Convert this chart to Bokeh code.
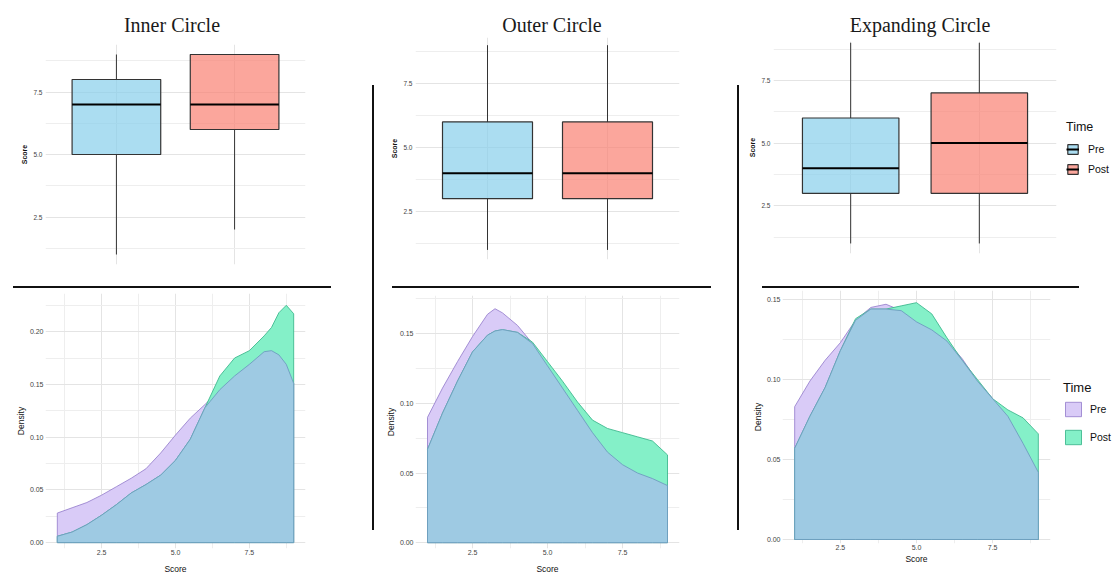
import numpy as np
from bokeh.plotting import figure
from bokeh.layouts import row, column
from bokeh.models import (FixedTicker, NumeralTickFormatter, Legend, LegendItem,
                          Div, Range1d, ColumnDataSource)
from bokeh.embed import file_html
from bokeh.resources import INLINE

# ---------------- data ----------------
panel_titles = ["Inner Circle", "Outer Circle", "Expanding Circle"]
times = ["Pre", "Post"]

# box statistics: lower whisker, Q1, median, Q3, upper whisker
inner_pre_box = [1, 5, 7, 8, 9]
inner_post_box = [2, 6, 7, 9, 9]
outer_pre_box = [1, 3, 4, 6, 9]
outer_post_box = [1, 3, 4, 6, 9]
expanding_pre_box = [1, 3, 4, 6, 9]
expanding_post_box = [1, 3, 5, 7, 9]

box_y_ticks = [2.5, 5.0, 7.5]
box_y_minor = [1.25, 3.75, 6.25, 8.75]
score_ticks = [2.5, 5.0, 7.5]
score_minor = [1.25, 3.75, 6.25, 8.75]
density_ticks = [0.0, 0.05, 0.10, 0.15, 0.20]
density_minor = [0.025, 0.075, 0.125, 0.175, 0.225]

# density curves (Score grid, Pre density, Post density)
inner_x = [1, 1.5, 2, 2.5, 3, 3.5, 4, 4.5, 5, 5.5, 6, 6.5, 7, 7.5, 8, 8.25, 8.5, 8.75, 9]
inner_pre = [0.028, 0.033, 0.038, 0.045, 0.053, 0.061, 0.070, 0.085, 0.102, 0.118, 0.131,
             0.145, 0.158, 0.169, 0.181, 0.182, 0.178, 0.169, 0.151]
inner_post = [0.006, 0.010, 0.017, 0.026, 0.036, 0.047, 0.055, 0.064, 0.078, 0.098, 0.128,
              0.158, 0.175, 0.182, 0.196, 0.204, 0.218, 0.225, 0.217]

outer_x = [1, 1.5, 2, 2.5, 3, 3.25, 3.5, 4, 4.5, 5, 5.5, 6, 6.5, 7, 7.5, 8, 8.5, 9]
outer_pre = [0.090, 0.111, 0.130, 0.148, 0.164, 0.168, 0.165, 0.156, 0.143, 0.127, 0.111,
             0.095, 0.079, 0.065, 0.056, 0.050, 0.046, 0.041]
outer_post = [0.067, 0.093, 0.116, 0.137, 0.149, 0.152, 0.153, 0.151, 0.144, 0.130, 0.116,
              0.101, 0.088, 0.082, 0.079, 0.076, 0.073, 0.063]

expanding_x = [1, 1.5, 2, 2.5, 3, 3.5, 4, 4.5, 5, 5.5, 6, 6.5, 7, 7.5, 8, 8.5, 9]
expanding_pre = [0.083, 0.099, 0.112, 0.123, 0.137, 0.145, 0.147, 0.143, 0.136, 0.131, 0.124,
                 0.113, 0.099, 0.088, 0.077, 0.060, 0.042]
expanding_post = [0.057, 0.077, 0.095, 0.118, 0.138, 0.144, 0.144, 0.146, 0.148, 0.141, 0.126,
                  0.112, 0.100, 0.088, 0.081, 0.076, 0.066]

# ---------------- styles ----------------
SANS = "Liberation Sans"
SERIF = "Liberation Serif"
BOX_FILL = {"Pre": "#87CEEB", "Post": "#FA8072"}
DENS_FILL = {"Pre": "#d9cbf7", "Post": "#84f0c8"}
DENS_LINE = {"Pre": "#9b85cf", "Post": "#3fb98f"}
OVERLAP_FILL = "#9ecae3"
OVERLAP_LINE = "#6e9cc0"
GRID = "#e4e4e4"
GRID_MINOR = "#eeeeee"
BOX_STYLE = dict(line_color="#333333", line_width=1.2, fill_alpha=0.7)
MEDIAN_STYLE = dict(line_color="black", line_width=2)
DENS_STYLE = dict(line_width=0.9)


def style_axes(p):
    for ax in p.yaxis + p.xaxis:
        ax.axis_line_color = None
        ax.major_tick_line_color = None
        ax.minor_tick_line_color = None
        ax.major_tick_out = 0
        ax.major_tick_in = 0
        ax.major_label_text_font = SANS
        ax.major_label_text_color = "#444444"
        ax.axis_label_text_font = SANS
        ax.axis_label_text_font_style = "normal"
        ax.axis_label_text_color = "#111111"


def box_fig(stats_pre, stats_post, width, height, ml, mr, mt, mb, y_rng):
    p = figure(width=width, height=height, x_range=Range1d(0.4, 2.6), y_range=Range1d(*y_rng),
               x_axis_location=None, output_backend="svg", toolbar_location=None, title=None,
               min_border_left=ml, min_border_right=mr, min_border_top=mt, min_border_bottom=mb,
               outline_line_color=None, background_fill_color="white", border_fill_alpha=0)
    p.xgrid.ticker = FixedTicker(ticks=[1, 2])
    p.xgrid.grid_line_color = GRID
    p.ygrid.ticker = FixedTicker(ticks=box_y_ticks, minor_ticks=box_y_minor)
    p.ygrid.grid_line_color = GRID
    p.ygrid.minor_grid_line_color = GRID_MINOR
    p.yaxis.ticker = FixedTicker(ticks=box_y_ticks)
    p.yaxis.formatter = NumeralTickFormatter(format="0.0")
    p.yaxis.axis_label = "Score"
    style_axes(p)
    p.yaxis.major_label_text_font_size = "6.5px"
    p.yaxis.major_label_standoff = 3
    p.yaxis.axis_label_text_font_size = "7px"
    p.yaxis.axis_label_text_font_style = "bold"
    p.yaxis.axis_label_standoff = 2

    for i, (name, st) in enumerate(zip(times, [stats_pre, stats_post])):
        xpos = i + 1
        lo, q1, med, q3, hi = st
        p.segment(x0=[xpos, xpos], y0=[q3, lo], x1=[xpos, xpos], y1=[hi, q1],
                  line_color="#333333", line_width=1)
        src = ColumnDataSource(dict(x=[xpos], bottom=[q1], top=[q3]))
        p.vbar(x="x", width=0.75, bottom="bottom", top="top", source=src,
               fill_color=BOX_FILL[name], **BOX_STYLE)
        p.segment(x0=[xpos - 0.375], y0=[med], x1=[xpos + 0.375], y1=[med], **MEDIAN_STYLE)
    return p


def dens_fig(xs, pre, post, width, height, ml, mr, mt, mb, y_rng, label_gap):
    p = figure(width=width, height=height, x_range=Range1d(0.6, 9.4), y_range=Range1d(*y_rng),
               output_backend="svg", toolbar_location=None, title=None,
               min_border_left=ml, min_border_right=mr, min_border_top=mt, min_border_bottom=mb,
               outline_line_color=None, background_fill_color="white", border_fill_alpha=0)
    p.xgrid.ticker = FixedTicker(ticks=score_ticks, minor_ticks=score_minor)
    p.xgrid.grid_line_color = GRID
    p.xgrid.minor_grid_line_color = GRID_MINOR
    p.ygrid.ticker = FixedTicker(ticks=density_ticks, minor_ticks=density_minor)
    p.ygrid.grid_line_color = GRID
    p.ygrid.minor_grid_line_color = GRID_MINOR
    p.xaxis.ticker = FixedTicker(ticks=score_ticks)
    p.xaxis.formatter = NumeralTickFormatter(format="0.0")
    p.yaxis.ticker = FixedTicker(ticks=density_ticks)
    p.yaxis.formatter = NumeralTickFormatter(format="0.00")
    p.xaxis.axis_label = "Score"
    p.yaxis.axis_label = "Density"
    style_axes(p)
    for ax in p.xaxis + p.yaxis:
        ax.major_label_text_font_size = "7px"
        ax.axis_label_text_font_size = "8.5px"
    p.xaxis.major_label_standoff = 1
    p.xaxis.axis_label_standoff = label_gap
    p.yaxis.major_label_standoff = 2
    p.yaxis.axis_label_standoff = 1

    x = list(xs)
    base = [0.0] * len(x)
    for name, ys in zip(times, [pre, post]):
        p.patch(x + x[::-1], list(ys) + base[::-1], fill_color=DENS_FILL[name],
                line_color=DENS_LINE[name], **DENS_STYLE)
    ov = np.minimum(np.array(pre), np.array(post)).tolist()
    p.patch(x + x[::-1], ov + base[::-1], fill_color=OVERLAP_FILL,
            line_color=OVERLAP_LINE, **DENS_STYLE)
    return p


def legend_canvas(width, height):
    # a small plot that only carries a legend (its renderers hold a NaN placeholder)
    p = figure(width=width, height=height, x_range=Range1d(0, 1), y_range=Range1d(0, 1),
               x_axis_location=None, y_axis_location=None, output_backend="svg",
               toolbar_location=None, title=None, min_border=0, outline_line_color=None,
               border_fill_alpha=0, background_fill_alpha=0)
    p.grid.visible = False
    return p


LEGEND_COMMON = dict(title="Time", title_text_font=SANS, title_text_font_style="normal",
                     title_text_color="#111111", label_text_font=SANS,
                     label_text_color="#111111", padding=0, margin=0,
                     border_line_color=None, background_fill_alpha=0)
NA = [float("nan")]


def box_legend(width, height, loc):
    p = legend_canvas(width, height)
    items = []
    for name in times:
        b = p.vbar(x=NA, width=0.75, bottom=NA, top=NA, fill_color=BOX_FILL[name], **BOX_STYLE)
        m = p.segment(x0=NA, y0=NA, x1=NA, y1=NA, **MEDIAN_STYLE)
        items.append(LegendItem(label=name, renderers=[b, m]))
    lg = Legend(items=items, location=loc, title_text_font_size="12.5px", title_standoff=7,
                label_text_font_size="10.5px", glyph_width=13, glyph_height=12,
                label_height=16, label_standoff=9, spacing=4, **LEGEND_COMMON)
    p.add_layout(lg)
    return p


def dens_legend(width, height, loc):
    p = legend_canvas(width, height)
    items = []
    for name in times:
        r = p.patch(x=NA, y=NA, fill_color=DENS_FILL[name], line_color=DENS_LINE[name],
                    **DENS_STYLE)
        items.append(LegendItem(label=name, renderers=[r]))
    lg = Legend(items=items, location=loc, title_text_font_size="13px", title_standoff=5,
                label_text_font_size="10.5px", glyph_width=20, glyph_height=18,
                label_height=18, label_standoff=7, spacing=10, **LEGEND_COMMON)
    p.add_layout(lg)
    return p


def title_div(text, left):
    return Div(text=text, width=300, height=28, margin=(0, 0, 0, left),
               styles={"font-family": SERIF, "font-size": "20px", "text-align": "center",
                       "line-height": "34px", "color": "#1a1a1a", "overflow": "visible"})


def hline(w, left):
    return Div(text="", width=w, height=2, margin=(2, 0, 0, left),
               styles={"background-color": "#111111"})


def vline(left):
    return Div(text="", width=2, height=445, margin=(77, 0, 0, left),
               styles={"background-color": "#111111"})


# ---------------- panels ----------------
boxA = box_fig(inner_pre_box, inner_post_box, 344, 248, 37, 24, 8, 20, (0.6, 9.4))
boxB = box_fig(outer_pre_box, outer_post_box, 353, 248, 40, 21, 1, 25, (0.625, 9.3))
boxC = box_fig(expanding_pre_box, expanding_post_box, 323, 248, 34, 6, 5, 31, (0.6, 9.05))
legBox = box_legend(50, 248, (4, 76))

densA = dens_fig(inner_x, inner_pre, inner_post, 344, 288, 29, 47, 5, 25,
                 (-0.0056, 0.2362), 6)
densB = dens_fig(outer_x, outer_pre, outer_post, 353, 288, 41, 48, 7, 25,
                 (-0.0042, 0.1775), 6)
densC = dens_fig(expanding_x, expanding_pre, expanding_post, 323, 288, 43, 12, 2, 33,
                 (-0.0025, 0.1556), 1)
legDens = dens_legend(50, 288, (1, 97))

colA = column(title_div(panel_titles[0], 14), boxA, hline(318, 5), densA, spacing=0)
colB = column(title_div(panel_titles[1], 28), boxB, hline(319, 18), densB, spacing=0)
colC = column(title_div(panel_titles[2], 31), row(boxC, legBox, spacing=0),
              hline(317, 23), row(densC, legDens, spacing=0), spacing=0)
layout = row(colA, vline(20), colB, vline(10), colC, spacing=0, margin=(8, 0, 0, 8))

open("out.html", "w").write(file_html(layout, INLINE))
